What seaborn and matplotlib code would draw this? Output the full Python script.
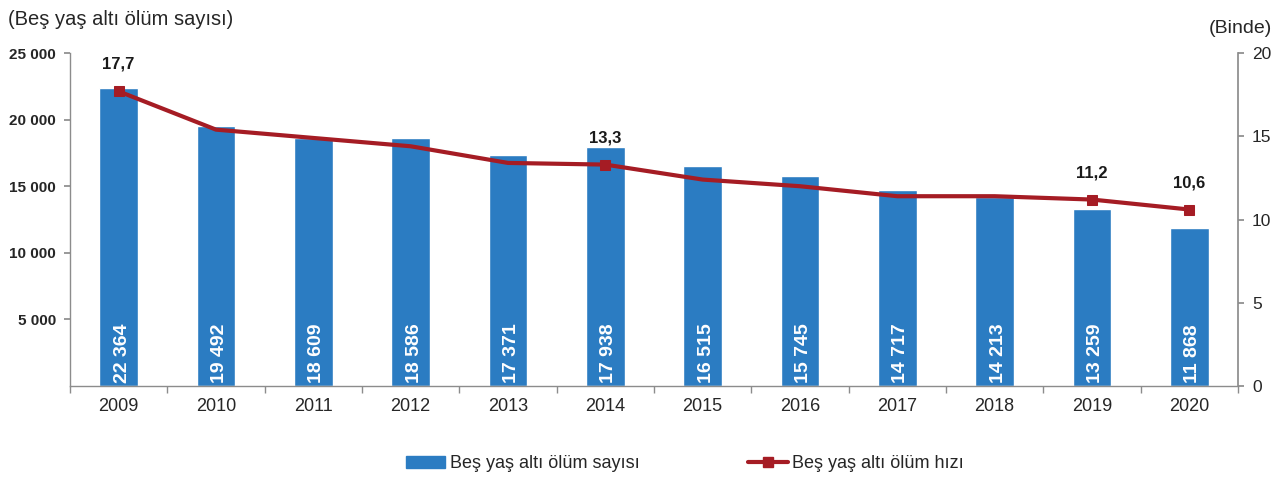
import numpy as np
import pandas as pd
import matplotlib
matplotlib.use("Agg")
import matplotlib.pyplot as plt
import seaborn as sns
from matplotlib.ticker import FuncFormatter
from matplotlib.patches import Patch
from matplotlib.lines import Line2D

years = ["2009", "2010", "2011", "2012", "2013", "2014", "2015", "2016", "2017", "2018", "2019", "2020"]
deaths = [22364, 19492, 18609, 18586, 17371, 17938, 16515, 15745, 14717, 14213, 13259, 11868]
rate = [17.7, 15.4, 14.9, 14.4, 13.4, 13.3, 12.4, 12.0, 11.4, 11.4, 11.2, 10.6]
labeled = [0, 5, 10, 11]

bar_color = "#2B7CC2"
line_color = "#A51C24"
axis_gray = "#8C8C8C"

sns.set_theme(style="white")
plt.rcParams["font.family"] = ["Liberation Sans", "DejaVu Sans"]

df = pd.DataFrame({"year": years, "deaths": deaths, "rate": rate, "pos": np.arange(len(years))})

fig = plt.figure(figsize=(12.8, 4.78), dpi=100)
ax = fig.add_axes([0.0547, 0.1925, 0.9125, 0.6965])

sns.barplot(data=df, x="year", y="deaths", color=bar_color, saturation=1, width=0.4, ax=ax)
ax.set_xlim(-0.5, len(years) - 0.5)
ax.set_ylim(0, 25000)
ax.set_yticks([5000, 10000, 15000, 20000, 25000])
ax.yaxis.set_major_formatter(FuncFormatter(lambda v, p: f"{int(v):,}".replace(",", " ")))
ax.set_xlabel("")
ax.set_ylabel("")
ax.tick_params(axis="y", labelsize=11, length=4, color=axis_gray, left=True, pad=6)
for t in ax.get_yticklabels():
    t.set_fontweight("bold")
ax.tick_params(axis="x", labelsize=13, length=0, pad=9)
# category separators on the x axis
ax.set_xticks(np.arange(-0.5, len(years) + 0.5), minor=True)
ax.tick_params(axis="x", which="minor", length=5, color=axis_gray, bottom=True)

for s in ["top", "right"]:
    ax.spines[s].set_visible(False)
for s in ["left", "bottom"]:
    ax.spines[s].set_color(axis_gray)
    ax.spines[s].set_linewidth(1)

# white counts inside the bars
for i, v in enumerate(deaths):
    ax.annotate(f"{v:,}".replace(",", " "), (i, 250), xytext=(2.5, 0), textcoords="offset points",
                rotation=90, rotation_mode="anchor", ha="left", va="center",
                color="white", fontsize=14, fontweight="bold")

ax2 = ax.twinx()
sns.lineplot(data=df, x="pos", y="rate", color=line_color, linewidth=3, marker="s",
             markersize=7, markevery=labeled, markeredgecolor=line_color, ax=ax2)
ax2.set_ylim(0, 20)
ax2.set_yticks([0, 5, 10, 15, 20])
ax2.set_ylabel("")
ax2.set_xlabel("")
ax2.tick_params(axis="y", labelsize=12.5, length=4, color=axis_gray, right=True, pad=6)
for s in ["top", "left", "bottom"]:
    ax2.spines[s].set_visible(False)
ax2.spines["right"].set_color(axis_gray)

for i in labeled:
    ax2.annotate(f"{rate[i]:.1f}".replace(".", ","), (i, rate[i]), xytext=(0, 14),
                 textcoords="offset points", ha="center", va="bottom",
                 fontsize=12, fontweight="bold", color="#1a1a1a")

fig.text(0.006, 0.96, "(Beş yaş altı ölüm sayısı)", fontsize=14.5, ha="left", va="center")
fig.text(0.994, 0.94, "(Binde)", fontsize=14, ha="right", va="center")

handles = [Patch(color=bar_color),
           Line2D([0], [0], color=line_color, lw=3, marker="s", markersize=7)]
fig.legend(handles, ["Beş yaş altı ölüm sayısı", "Beş yaş altı ölüm hızı"],
           loc="center", bbox_to_anchor=(0.535, 0.03), ncol=2, frameon=False,
           fontsize=13, columnspacing=6, handlelength=2.2, handletextpad=0.25)

fig.savefig("out.png", dpi=100)
